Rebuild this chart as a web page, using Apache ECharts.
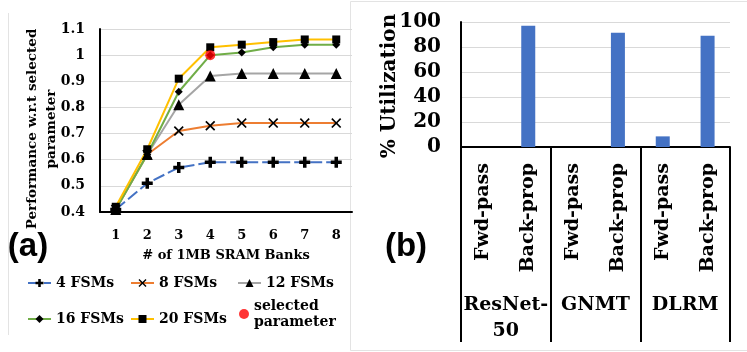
<!DOCTYPE html>
<html>
<head>
<meta charset="utf-8">
<script src="https://cdn.jsdelivr.net/npm/echarts@6/dist/echarts.min.js"></script>
<style>
  html, body { margin: 0; padding: 0; background: #fff; }
  #main { width: 747px; height: 352px; }
</style>
</head>
<body>
<div id="main"></div>
<script>
// (a) 性能随 SRAM bank 数变化
var banks = ['1', '2', '3', '4', '5', '6', '7', '8'];
var fsm4  = [0.41, 0.51, 0.57, 0.59, 0.59, 0.59, 0.59, 0.59];
var fsm8  = [0.41, 0.62, 0.71, 0.73, 0.74, 0.74, 0.74, 0.74];
var fsm12 = [0.41, 0.62, 0.81, 0.92, 0.93, 0.93, 0.93, 0.93];
var fsm16 = [0.41, 0.62, 0.86, 1.00, 1.01, 1.03, 1.04, 1.04];
var fsm20 = [0.42, 0.64, 0.91, 1.03, 1.04, 1.05, 1.06, 1.06];
var selected = [['4', 1.00]];

// (b) 利用率
var phases = ['Fwd-pass', 'Back-prop', 'Fwd-pass', 'Back-prop', 'Fwd-pass', 'Back-prop'];
var models = ['ResNet-\n50', 'GNMT', 'DLRM'];
var utilization = [0, 97, 0, 91.5, 8.5, 89];

var serif = '"DejaVu Serif", serif';
var sans = '"Liberation Sans", Arial, sans-serif';

var plusPath = 'path://M3.4,0H6.6V3.4H10V6.6H6.6V10H3.4V6.6H0V3.4H3.4Z';
var crossPath = 'path://M0,1.2L1.2,0L5,3.8L8.8,0L10,1.2L6.2,5L10,8.8L8.8,10L5,6.2L1.2,10L0,8.8L3.8,5Z';

var chart = echarts.init(document.getElementById('main'));

function lineSeries(name, data, color, symbol, size, dashed){
  return {
    name: name,
    type: 'line',
    xAxisIndex: 0,
    yAxisIndex: 0,
    data: data,
    symbol: symbol,
    symbolSize: size,
    showAllSymbol: true,
    itemStyle: { color: '#000' },
    lineStyle: { color: color, width: 2, type: dashed ? [12, 4] : 'solid' },
    emphasis: { disabled: true },
    z: 3
  };
}

var legendText = { fontFamily: serif, fontWeight: 'bold', fontSize: 14, lineHeight: 16, color: '#000' };
function legendAt(name, left, top, w){
  return {
    data: [name],
    left: left,
    top: top,
    padding: 0,
    itemWidth: w || 23,
    itemHeight: 10,
    itemGap: 0,
    selectedMode: false,
    textStyle: legendText
  };
}

var option = {
  animation: false,
  backgroundColor: '#fff',
  grid: [
    { left: 100, top: 29, width: 252, height: 183 },
    { left: 461, top: 22, width: 269, height: 125 }
  ],
  xAxis: [
    {
      gridIndex: 0,
      type: 'category',
      data: banks,
      boundaryGap: true,
      axisLine: { lineStyle: { color: '#000', width: 2 } },
      axisTick: { show: false },
      axisLabel: { margin: 17, fontFamily: serif, fontWeight: 'bold', fontSize: 13, color: '#000' },
      name: '# of 1MB SRAM Banks',
      nameLocation: 'middle',
      nameGap: 37,
      nameTextStyle: { fontFamily: serif, fontWeight: 'bold', fontSize: 13, color: '#000' }
    },
    {
      gridIndex: 1,
      type: 'category',
      data: phases,
      axisLine: { lineStyle: { color: '#000', width: 2 } },
      axisTick: { show: false },
      axisLabel: { rotate: 90, margin: 16, interval: 0, fontFamily: serif, fontWeight: 'bold', fontSize: 19, color: '#000' }
    },
    {
      gridIndex: 1,
      type: 'category',
      data: models,
      position: 'bottom',
      axisLine: { show: false },
      axisTick: { show: true, length: 195, interval: 0, lineStyle: { color: '#000', width: 2 } },
      axisLabel: { margin: 145, interval: 0, lineHeight: 26, fontFamily: serif, fontWeight: 'bold', fontSize: 19, color: '#000' }
    }
  ],
  yAxis: [
    {
      gridIndex: 0,
      type: 'value',
      min: 0.4,
      max: 1.1,
      interval: 0.1,
      axisLine: { show: true, lineStyle: { color: '#000', width: 2 } },
      axisTick: { show: false },
      splitLine: { lineStyle: { color: '#d9d9d9', width: 1 } },
      axisLabel: { margin: 15, fontFamily: serif, fontWeight: 'bold', fontSize: 14, color: '#000' }
    },
    {
      gridIndex: 1,
      type: 'value',
      min: 0,
      max: 100,
      interval: 20,
      axisLine: { show: true, lineStyle: { color: '#000', width: 2 } },
      axisTick: { show: false },
      splitLine: { lineStyle: { color: '#d9d9d9', width: 1 } },
      axisLabel: { margin: 20, fontFamily: serif, fontWeight: 'bold', fontSize: 20, color: '#000' }
    }
  ],
  legend: [
    legendAt('4 FSMs', 27, 275),
    legendAt('8 FSMs', 130, 275),
    legendAt('12 FSMs', 237, 275),
    legendAt('16 FSMs', 27, 311),
    legendAt('20 FSMs', 130, 311),
    legendAt('selected\nparameter', 239, 298, 10)
  ],
  series: [
    lineSeries('4 FSMs', fsm4, '#4472c4', plusPath, 11, true),
    lineSeries('8 FSMs', fsm8, '#ed7d31', crossPath, 10, false),
    lineSeries('12 FSMs', fsm12, '#a5a5a5', 'triangle', 11, false),
    lineSeries('16 FSMs', fsm16, '#70ad47', 'diamond', 8, false),
    lineSeries('20 FSMs', fsm20, '#ffc000', 'rect', 8, false),
    {
      name: 'selected\nparameter',
      type: 'scatter',
      xAxisIndex: 0,
      yAxisIndex: 0,
      data: selected,
      symbol: 'circle',
      symbolSize: 10,
      itemStyle: { color: '#ff0000' },
      z: 5
    },
    {
      name: 'Utilization',
      type: 'bar',
      xAxisIndex: 1,
      yAxisIndex: 1,
      data: utilization,
      barWidth: 14,
      itemStyle: { color: '#4472c4' }
    }
  ],
  graphic: [
    // 面板边框
    { type: 'line', shape: { x1: 8.5, y1: 13, x2: 8.5, y2: 335 }, style: { stroke: '#e3e3e3', lineWidth: 1 } },
    { type: 'rect', shape: { x: 350.5, y: 1.5, width: 400, height: 349 }, style: { fill: 'none', stroke: '#e3e3e3', lineWidth: 1 } },
    {
      type: 'text', x: 42, y: 129, rotation: Math.PI / 2,
      style: { text: 'Performance w.r.t selected\nparameter', fontFamily: serif, fontWeight: 'bold', fontSize: 13.5, lineHeight: 19, fill: '#000', align: 'center', verticalAlign: 'middle' }
    },
    {
      type: 'text', x: 390, y: 86, rotation: Math.PI / 2,
      style: { text: '% Utilization', fontFamily: serif, fontWeight: 'bold', fontSize: 20, fill: '#000', align: 'center', verticalAlign: 'middle' }
    },
    {
      type: 'text', x: 28, y: 247,
      style: { text: '(a)', fontFamily: sans, fontWeight: 'bold', fontSize: 33, fill: '#000', align: 'center', verticalAlign: 'middle' }
    },
    {
      type: 'text', x: 406, y: 247,
      style: { text: '(b)', fontFamily: sans, fontWeight: 'bold', fontSize: 33, fill: '#000', align: 'center', verticalAlign: 'middle' }
    }
  ]
};

chart.setOption(option);
</script>
</body>
</html>
